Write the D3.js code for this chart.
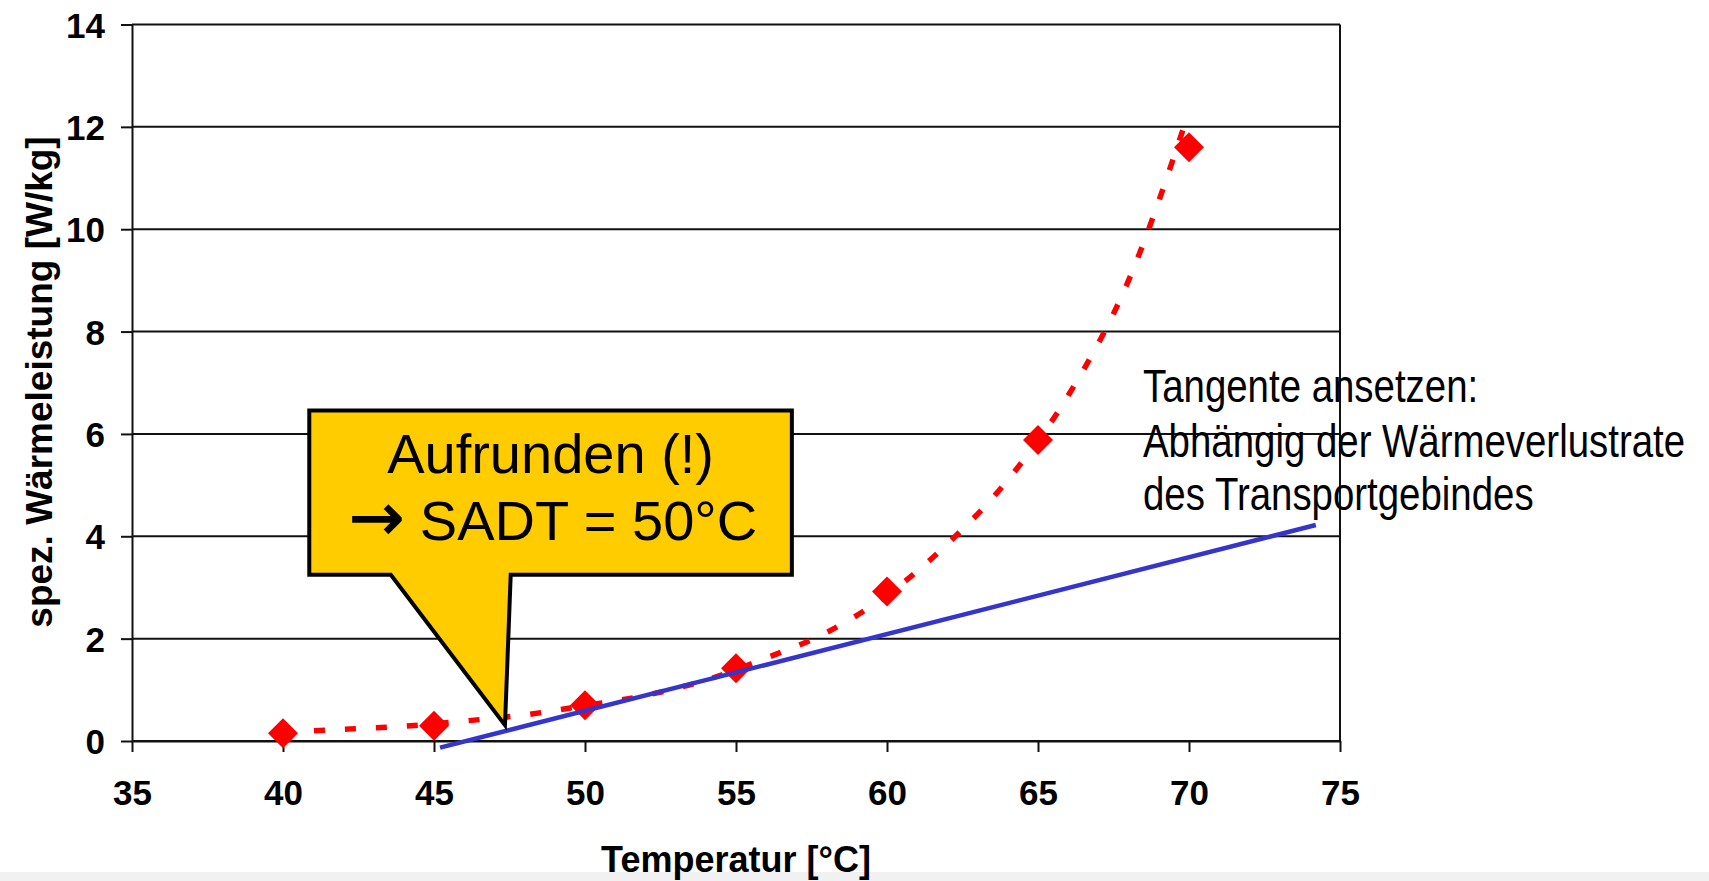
<!DOCTYPE html>
<html>
<head>
<meta charset="utf-8">
<script src="https://cdn.jsdelivr.net/npm/d3@7"></script>
<style>
  html, body { margin: 0; padding: 0; background: #fff; }
  svg { display: block; }
  text { font-family: "Liberation Sans", Arial, sans-serif; }
</style>
</head>
<body>
<svg id="chart" width="1709" height="881"></svg>
<script>
// ---- data ----
const temps = [40, 45, 50, 55, 60, 65, 70];
const heat = [0.15, 0.30, 0.70, 1.42, 2.92, 5.88, 11.6];

// dashed exponential trend line
const trendT = [40, 42, 44, 46, 48, 50, 52, 54, 56, 58, 60, 62, 64, 66, 68, 70];
const trendV = [0.17, 0.23, 0.29, 0.39, 0.51, 0.69, 0.89, 1.19, 1.62, 2.12, 2.85, 3.85, 5.10, 6.75, 9.00, 12.3];

// tangent line
const tangentT = [45.2, 74.2];
const tangentV = [-0.13, 4.22];

const xTicks = [35, 40, 45, 50, 55, 60, 65, 70, 75];
const yTicks = [0, 2, 4, 6, 8, 10, 12, 14];

const xTitle = "Temperatur [°C]";
const yTitle = "spez. Wärmeleistung [W/kg]";
const calloutArrow = "\u2192";
const calloutLines = ["Aufrunden (!)", " SADT = 50°C"];
const noteLines = ["Tangente ansetzen:", "Abhängig der Wärmeverlustrate", "des Transportgebindes"];

// callout geometry in data units
const callout = { left: 40.87, right: 56.85, top: 6.46, bottom: 3.25,
                  baseL: 43.57, baseR: 47.54, tipX: 47.35, tipY: 0.31 };

// ---- layout ----
const svg = d3.select("#chart");
const x = d3.scaleLinear().domain([35, 75]).range([132, 1340]);
const y = d3.scaleLinear().domain([0, 14]).range([741, 24.5]);

svg.append("rect").attr("x", 0).attr("y", 872).attr("width", 1709).attr("height", 9).attr("fill", "#f1f1f1");

// gridlines
svg.append("g").selectAll("line").data(yTicks).join("line")
  .attr("x1", x(35)).attr("x2", x(75))
  .attr("y1", d => y(d)).attr("y2", d => y(d))
  .attr("stroke", "#111").attr("stroke-width", 2);

// right border
svg.append("line").attr("x1", x(75)).attr("x2", x(75)).attr("y1", y(14)).attr("y2", y(0))
  .attr("stroke", "#111").attr("stroke-width", 2);

// axes
const yAxis = svg.append("g").attr("transform", `translate(${x(35)},0)`)
  .call(d3.axisLeft(y).tickValues(yTicks).tickSize(11).tickSizeOuter(0).tickPadding(16));
const xAxis = svg.append("g").attr("transform", `translate(0,${y(0)})`)
  .call(d3.axisBottom(x).tickValues(xTicks).tickSize(11).tickSizeOuter(0).tickPadding(28));
[yAxis, xAxis].forEach(a => {
  a.select(".domain").attr("stroke", "#111").attr("stroke-width", 2);
  a.selectAll(".tick line").attr("stroke", "#111").attr("stroke-width", 2);
  a.selectAll(".tick text").attr("fill", "#000")
    .style("font-family", '"Liberation Sans", Arial, sans-serif')
    .style("font-size", "35px").style("font-weight", "bold");
});
yAxis.selectAll(".tick text").attr("dy", "0.36em");

// axis titles
svg.append("text").attr("x", 736).attr("y", 872).attr("text-anchor", "middle")
  .style("font-size", "36px").style("font-weight", "bold").text(xTitle);
svg.append("text").attr("transform", "translate(52,382) rotate(-90)").attr("text-anchor", "middle")
  .style("font-size", "37px").style("font-weight", "bold").text(yTitle);

// trend line (dashed red)
const trendData = trendT.map((t, i) => [t, trendV[i]]);
svg.append("path").datum(trendData)
  .attr("d", d3.line().x(d => x(d[0])).y(d => y(d[1])).curve(d3.curveMonotoneX))
  .attr("fill", "none").attr("stroke", "#ff0000").attr("stroke-width", 5.5)
  .attr("stroke-dasharray", "11,20");

// data diamonds
const r = 15;
svg.append("g").selectAll("path").data(temps.map((t, i) => [t, heat[i]])).join("path")
  .attr("d", d => {
    const cx = x(d[0]), cy = y(d[1]);
    return `M${cx},${cy - r}L${cx + r},${cy}L${cx},${cy + r}L${cx - r},${cy}Z`;
  })
  .attr("fill", "#ff0000");

// tangent (blue)
svg.append("line")
  .attr("x1", x(tangentT[0])).attr("y1", y(tangentV[0]))
  .attr("x2", x(tangentT[1])).attr("y2", y(tangentV[1]))
  .attr("stroke", "#3535cc").attr("stroke-width", 4.5);

// callout
const c = callout;
const cPath = `M${x(c.left)},${y(c.top)}L${x(c.right)},${y(c.top)}L${x(c.right)},${y(c.bottom)}` +
  `L${x(c.baseR)},${y(c.bottom)}L${x(c.tipX)},${y(c.tipY)}L${x(c.baseL)},${y(c.bottom)}` +
  `L${x(c.left)},${y(c.bottom)}Z`;
svg.append("path").attr("d", cPath).attr("fill", "#ffcc00").attr("stroke", "#000")
  .attr("stroke-width", 4).attr("stroke-linejoin", "miter");
const cx = (x(c.left) + x(c.right)) / 2;
svg.append("text").attr("x", cx).attr("y", 473).attr("text-anchor", "middle")
  .style("font-size", "56px").text(calloutLines[0]);
const l2 = svg.append("text").attr("x", 349).attr("y", 540).style("font-size", "56px");
l2.append("tspan").style("font-family", '"DejaVu Sans", sans-serif').style("font-size", "66px")
  .attr("stroke", "#000").attr("stroke-width", 1.2).text(calloutArrow);
l2.append("tspan").text(calloutLines[1]);

// note on the right
const note = svg.append("g").attr("transform", "translate(1143,0) scale(0.835,1)");
[401.7, 456.7, 510.5].forEach((by, i) => {
  note.append("text").attr("x", 0).attr("y", by).style("font-size", "46px").text(noteLines[i]);
});
</script>
</body>
</html>
